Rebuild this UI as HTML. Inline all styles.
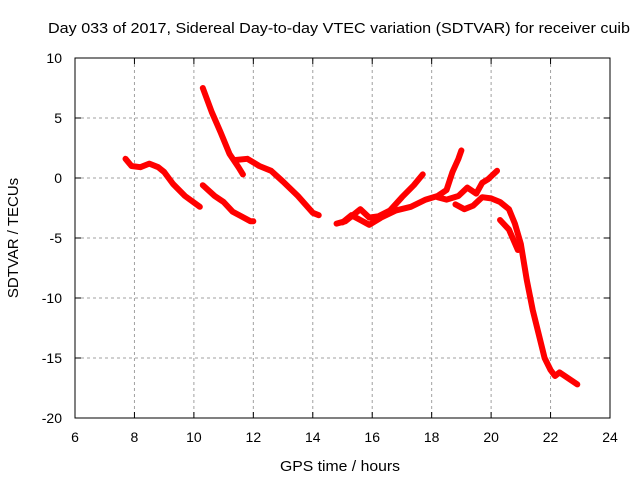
<!DOCTYPE html>
<html><head><meta charset="utf-8"><style>
body{margin:0;background:#fff;}
svg text{font-family:"Liberation Sans",sans-serif;font-size:14px;fill:#000;}
</style></head><body>
<svg width="640" height="480" id="chart">
<rect width="640" height="480" fill="#fff"/>
<text x="48" y="33" textLength="582" lengthAdjust="spacingAndGlyphs" font-size="15" style="font-size:15px">Day 033 of 2017, Sidereal Day-to-day VTEC variation (SDTVAR) for receiver cuib</text>
<text x="280" y="471" textLength="120" lengthAdjust="spacingAndGlyphs" style="font-size:15px">GPS time / hours</text>
<text transform="translate(18,238) rotate(-90)" text-anchor="middle" style="font-size:15px">SDTVAR / TECUs</text>
<g id="grid"></g><g id="series"></g>
<rect x="75" y="58" width="535" height="360" fill="none" stroke="#000" stroke-width="1"/>
</svg>
<script>
const xTicks=[6,8,10,12,14,16,18,20,22,24];
const yTicks=[10,5,0,-5,-10,-15,-20];
const segA=[[7.7,1.6],[7.9,1.0],[8.2,0.9],[8.5,1.2],[8.8,0.9],[9.0,0.5],[9.3,-0.5],[9.7,-1.5],[10.2,-2.4]];
const segB=[[10.3,7.5],[10.6,5.5],[10.9,3.8],[11.2,2.0],[11.5,0.9],[11.65,0.3]];
const segC=[[11.4,1.5],[11.8,1.6],[12.2,1.0],[12.6,0.6],[13.0,-0.3],[13.5,-1.5],[14.0,-2.9],[14.2,-3.1]];
const segD=[[10.3,-0.6],[10.7,-1.5],[11.0,-2.0],[11.3,-2.8],[11.6,-3.2],[11.9,-3.6],[12.0,-3.6]];
const segE=[[14.8,-3.8],[15.1,-3.6],[15.4,-3.0],[15.6,-2.6],[15.9,-3.3],[16.2,-3.2],[16.6,-2.7],[17.0,-1.6],[17.4,-0.6],[17.7,0.3]];
const segF=[[15.0,-3.7],[15.3,-3.1],[15.6,-3.5],[15.9,-3.9],[16.3,-3.3],[16.8,-2.7],[17.3,-2.4],[17.8,-1.8],[18.2,-1.5],[18.5,-1.0],[18.7,0.5],[18.9,1.6],[19.0,2.3]];
const segG=[[18.2,-1.6],[18.5,-1.8],[18.9,-1.5],[19.2,-0.8],[19.5,-1.3],[19.7,-0.4],[19.9,-0.1],[20.2,0.6]];
const segH=[[18.8,-2.2],[19.1,-2.6],[19.4,-2.3],[19.7,-1.6],[20.0,-1.7],[20.3,-2.0],[20.6,-2.6],[20.8,-3.8],[21.0,-5.5],[21.2,-8.5],[21.4,-11.0],[21.6,-13.0],[21.8,-15.0],[22.0,-16.0],[22.15,-16.5],[22.3,-16.2],[22.6,-16.7],[22.9,-17.2]];
const segI=[[20.3,-3.5],[20.6,-4.3],[20.9,-6.0]];
const segments=[segA,segB,segC,segD,segE,segF,segG,segH,segI];
const X=v=>75+(v-6)/18*535, Y=v=>58+(10-v)/30*360;
const NS='http://www.w3.org/2000/svg';
const grid=document.getElementById('grid'), ser=document.getElementById('series');
function mk(tag,attrs,parent){const e=document.createElementNS(NS,tag);for(const k in attrs)e.setAttribute(k,attrs[k]);parent.appendChild(e);return e;}
xTicks.forEach(t=>{
  const x=X(t);
  if(t>6&&t<24){const l=mk('line',{x1:x,x2:x,y1:58,y2:418,stroke:'#a0a0a0','stroke-dasharray':'3,3'},grid);
  
  }
  mk('line',{x1:x,x2:x,y1:418,y2:412,stroke:'#000'},grid);
  mk('line',{x1:x,x2:x,y1:58,y2:64,stroke:'#000'},grid);
  const tx=mk('text',{x:x,y:442,'text-anchor':'middle'},grid);tx.textContent=t;
  
  
});
yTicks.forEach(t=>{
  const y=Y(t);
  if(t>-20&&t<10){const l=mk('line',{x1:75,x2:610,y1:y,y2:y,stroke:'#a0a0a0','stroke-dasharray':'3,3'},grid);
  
  }
  mk('line',{x1:75,x2:81,y1:y,y2:y,stroke:'#000'},grid);
  mk('line',{x1:610,x2:604,y1:y,y2:y,stroke:'#000'},grid);
  const tx=mk('text',{x:62,y:y+5,'text-anchor':'end'},grid);tx.textContent=t;
  
  
});
segments.forEach(s=>{
  const p=mk('polyline',{points:s.map(d=>X(d[0])+','+Y(d[1])).join(' '),fill:'none',stroke:'#ff0000','stroke-width':6,'stroke-linejoin':'round','stroke-linecap':'round'},ser);
  
  
});
</script>
</body></html>
